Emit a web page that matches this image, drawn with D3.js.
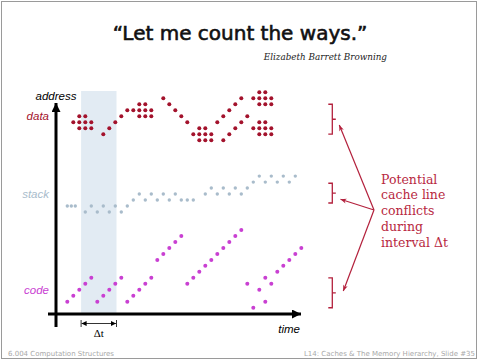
<!DOCTYPE html>
<html>
<head>
<meta charset="utf-8">
<script src="https://cdn.jsdelivr.net/npm/d3@7"></script>
<style>
  body { margin: 0; background: #fff; }
  svg { display: block; }
</style>
</head>
<body>
<svg width="480" height="360"></svg>
<script>
// memory references as [time step, address line]
let dataRefs = [
  [1, 16], [2, 16], [0, 15], [1, 15], [2, 15], [3, 15], [1, 14], [2, 14], [3, 14],
  [5, 13], [6, 14], [7, 15], [8, 16], [9, 17], [10, 17],
  [11, 18], [12, 18], [11, 17], [12, 17], [13, 17], [11, 16], [12, 16], [13, 16],
  [15, 19], [16, 18], [17, 17], [18, 16], [19, 15],
  [21, 14], [22, 14], [20, 13], [21, 13], [22, 13], [23, 13], [21, 12], [22, 12], [23, 12],
  [25, 12], [24, 15], [25, 16], [26, 17], [27, 18], [28, 19],
  [26, 13], [27, 14], [28, 15], [29, 16],
  [31, 20], [32, 20], [30, 19], [31, 19], [32, 19], [33, 19], [31, 18], [32, 18], [33, 18],
  [31, 15], [32, 15], [30, 14], [31, 14], [32, 14], [33, 14], [31, 13], [32, 13], [33, 13]
];

let stackRefs = [
  [-1, 1], [-0.33, 1], [0.33, 1],
  [2, 0], [3, 1], [4, 0], [5, 1], [6, 0], [7, 1], [8, 0], [9, 1],
  [10, 2], [11, 3], [12, 2], [13, 3], [14, 2], [15, 3], [16, 2], [17, 3],
  [18, 2], [19, 2], [20, 2],
  [22, 3], [23, 4], [24, 3], [25, 4], [26, 3], [27, 4], [28, 3], [29, 4],
  [30, 5], [31, 6], [32, 5], [33, 6], [34, 5], [35, 6], [36, 5], [37, 6]
];

let codeRefs = [
  [-1, -15], [0, -14], [1, -13], [2, -12], [3, -11],
  [4, -15], [5, -14], [6, -13], [7, -12], [8, -11],
  [9, -15], [10, -14], [11, -13], [12, -12], [13, -11],
  [14, -8], [15, -7], [16, -6], [17, -5], [18, -4],
  [19, -12], [20, -11], [21, -10], [22, -9], [23, -8], [24, -7], [25, -6], [26, -5], [27, -4], [28, -3],
  [29, -12], [30, -16], [31, -13], [32, -15], [32, -11], [33, -12],
  [34, -10], [35, -9], [36, -8], [37, -7], [38, -6]
];

let segments = ['data', 'stack', 'code'];
let segmentAddr = [16, 3, -13];       // where the segment labels sit
let conflictSpan = [[13, 18], [1.5, 4.8], [-16, -11]];
let window_ = [1.3, 7.2];             // the interval Δt
let noteLines = ['Potential', 'cache line', 'conflicts', 'during', 'interval \u0394t'];

let svg = d3.select('svg');

let x = d3.scaleLinear().domain([0, 33]).range([73.3, 271.3]);
let y = d3.scaleLinear().domain([0, 20]).range([212, 92.3]);
let color = d3.scaleOrdinal().domain(segments).range(['#a3122c', '#a9bccb', '#c940d2']);

// slide frame
svg.append('rect')
  .attr('x', 1.5).attr('y', 1.5)
  .attr('width', 475).attr('height', 357)
  .attr('fill', 'none')
  .attr('stroke', '#9a9a9a');

svg.append('text')
  .attr('x', 240).attr('y', 40)
  .attr('text-anchor', 'middle')
  .style('font', '20px "DejaVu Sans"')
  .attr('fill', '#111')
  .attr('stroke', '#111')
  .attr('stroke-width', 0.6)
  .text('\u201cLet me count the ways.\u201d');

svg.append('text')
  .attr('x', 387).attr('y', 60)
  .attr('text-anchor', 'end')
  .style('font', 'italic 8.8px "DejaVu Serif"')
  .attr('fill', '#222')
  .text('Elizabeth Barrett Browning');

// markers
let defs = svg.append('defs');
defs.append('marker')
  .attr('id', 'axisHead')
  .attr('viewBox', '0 0 10 10')
  .attr('refX', 10).attr('refY', 5)
  .attr('markerUnits', 'userSpaceOnUse')
  .attr('markerWidth', 12).attr('markerHeight', 9)
  .attr('orient', 'auto')
  .append('path').attr('d', 'M0,0L10,5L0,10z').attr('fill', '#000');
defs.append('marker')
  .attr('id', 'smallHead')
  .attr('viewBox', '0 0 10 10')
  .attr('refX', 10).attr('refY', 5)
  .attr('markerUnits', 'userSpaceOnUse')
  .attr('markerWidth', 5).attr('markerHeight', 5)
  .attr('orient', 'auto-start-reverse')
  .append('path').attr('d', 'M0,0L10,5L0,10z').attr('fill', '#000');
defs.append('marker')
  .attr('id', 'redHead')
  .attr('viewBox', '0 0 10 10')
  .attr('refX', 10).attr('refY', 5)
  .attr('markerUnits', 'userSpaceOnUse')
  .attr('markerWidth', 7).attr('markerHeight', 6)
  .attr('orient', 'auto')
  .append('path').attr('d', 'M0,1L10,5L0,9L3,5z').attr('fill', '#b3203c');

// the interval band
svg.append('rect')
  .attr('x', x(window_[0]))
  .attr('y', 91)
  .attr('width', x(window_[1]) - x(window_[0]))
  .attr('height', 314 - 91)
  .attr('fill', '#e2ebf3');

// dots
let series = [dataRefs, stackRefs, codeRefs];
series.forEach((refs, i) => {
  svg.append('g')
    .attr('fill', color(segments[i]))
    .selectAll('circle')
    .data(refs)
    .join('circle')
    .attr('cx', d => x(d[0]))
    .attr('cy', d => y(d[1]))
    .attr('r', i === 1 ? 1.7 : 2);
});

// axes
svg.append('line')
  .attr('x1', 56).attr('y1', 327)
  .attr('x2', 56).attr('y2', 103)
  .attr('stroke', '#000').attr('stroke-width', 3)
  .attr('marker-end', 'url(#axisHead)');
svg.append('line')
  .attr('x1', 48).attr('y1', 314)
  .attr('x2', 301).attr('y2', 314)
  .attr('stroke', '#000').attr('stroke-width', 3)
  .attr('marker-end', 'url(#axisHead)');

let labelFont = 'italic 11.5px "Liberation Sans"';
svg.append('text')
  .attr('x', 56).attr('y', 100)
  .attr('text-anchor', 'middle')
  .style('font', labelFont)
  .text('address');
svg.append('text')
  .attr('x', 300).attr('y', 333)
  .attr('text-anchor', 'end')
  .style('font', labelFont)
  .text('time');

svg.append('g')
  .selectAll('text')
  .data(segments)
  .join('text')
  .attr('x', 49)
  .attr('y', (d, i) => y(segmentAddr[i]) + 4)
  .attr('text-anchor', 'end')
  .style('font', labelFont)
  .attr('fill', d => color(d))
  .text(d => d);

// Δt bracket
let dt = svg.append('g').attr('stroke', '#000').attr('stroke-width', 0.8);
dt.append('line')
  .attr('x1', x(window_[0])).attr('x2', x(window_[0]))
  .attr('y1', 320).attr('y2', 327);
dt.append('line')
  .attr('x1', x(window_[1])).attr('x2', x(window_[1]))
  .attr('y1', 320).attr('y2', 327);
dt.append('line')
  .attr('x1', x(window_[0]) + 0.5).attr('x2', x(window_[1]) - 0.5)
  .attr('y1', 323.5).attr('y2', 323.5)
  .attr('marker-start', 'url(#smallHead)')
  .attr('marker-end', 'url(#smallHead)');
svg.append('text')
  .attr('x', (x(window_[0]) + x(window_[1])) / 2).attr('y', 337)
  .attr('text-anchor', 'middle')
  .style('font', '11px "Liberation Serif"')
  .text('\u0394t');

// conflict brackets and arrows
let red = '#b3203c';
let bx = 332.3;
conflictSpan.forEach(s => {
  let top = y(s[1]), bot = y(s[0]), mid = (top + bot) / 2;
  svg.append('path')
    .attr('d', `M${bx - 4},${top}H${bx}V${bot}H${bx - 4}M${bx},${mid}H${bx + 3.5}`)
    .attr('fill', 'none')
    .attr('stroke', red)
    .attr('stroke-width', 1.3);
});

let hub = [374, 210];
let tips = [[339.3, 125], [340.5, 199.3], [343.3, 291]];
tips.forEach(t => {
  svg.append('line')
    .attr('x1', hub[0]).attr('y1', hub[1])
    .attr('x2', t[0]).attr('y2', t[1])
    .attr('stroke', red).attr('stroke-width', 1.2)
    .attr('marker-end', 'url(#redHead)');
});

svg.append('text')
  .attr('x', 381).attr('y', 183.5)
  .style('font', '12.5px "DejaVu Serif"')
  .attr('fill', '#b8283f')
  .selectAll('tspan')
  .data(noteLines)
  .join('tspan')
  .attr('x', 381)
  .attr('dy', (d, i) => i ? 15.8 : 0)
  .text(d => d);

// footer
svg.append('text')
  .attr('x', 8).attr('y', 356)
  .style('font', '7px "DejaVu Sans"')
  .attr('fill', '#a8a8a8')
  .text('6.004 Computation Structures');
svg.append('text')
  .attr('x', 475).attr('y', 356)
  .attr('text-anchor', 'end')
  .style('font', '7px "DejaVu Sans"')
  .attr('fill', '#a8a8a8')
  .text('L14: Caches & The Memory Hierarchy, Slide #35');
</script>
</body>
</html>
